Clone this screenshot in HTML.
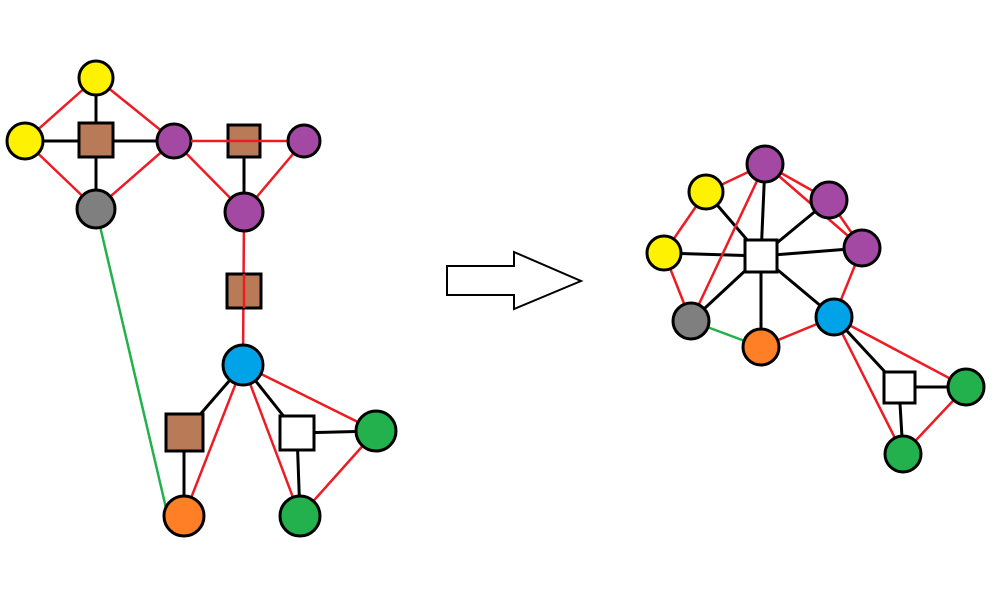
<!DOCTYPE html>
<html><head><style>html,body{margin:0;padding:0;background:#fff}</style></head><body>
<svg width="1007" height="587" xmlns="http://www.w3.org/2000/svg">
<g stroke-linecap="round">
<g stroke="#000" stroke-width="3">
<line x1="96" y1="78" x2="96" y2="209"/><line x1="25" y1="141" x2="174" y2="141"/>
<line x1="244" y1="141" x2="244" y2="212"/>
<line x1="243" y1="365" x2="184" y2="433"/><line x1="184" y1="433" x2="184" y2="516"/>
<line x1="243" y1="365" x2="297" y2="433"/><line x1="297" y1="433" x2="376" y2="431"/><line x1="297" y1="433" x2="300" y2="516"/>
</g>
<g stroke="#ed1c24" stroke-width="2.5">
<line x1="96" y1="78" x2="25" y2="141"/><line x1="96" y1="78" x2="174" y2="141"/>
<line x1="25" y1="141" x2="96" y2="209"/><line x1="96" y1="209" x2="174" y2="141"/>
<line x1="174" y1="141" x2="244" y2="212"/>
<line x1="304" y1="141" x2="244" y2="212"/><line x1="244" y1="212" x2="243" y2="365"/>
<line x1="243" y1="365" x2="184" y2="516"/><line x1="243" y1="365" x2="300" y2="516"/>
<line x1="243" y1="365" x2="376" y2="431"/><line x1="376" y1="431" x2="300" y2="516"/>
</g>
<line x1="96" y1="209" x2="166" y2="508" stroke="#22b14c" stroke-width="2.5"/>
<g stroke="#000" stroke-width="3">
<line x1="761" y1="256" x2="765" y2="164"/><line x1="761" y1="256" x2="706" y2="192"/>
<line x1="761" y1="256" x2="664" y2="253"/><line x1="761" y1="256" x2="829" y2="200"/>
<line x1="761" y1="256" x2="862" y2="248"/><line x1="761" y1="256" x2="691" y2="321"/>
<line x1="761" y1="256" x2="761" y2="347"/><line x1="761" y1="256" x2="834" y2="317"/>
<line x1="834" y1="317" x2="899" y2="387"/><line x1="899" y1="387" x2="966" y2="387"/><line x1="899" y1="387" x2="903" y2="454"/>
</g>
<g stroke="#ed1c24" stroke-width="2.5">
<line x1="706" y1="192" x2="765" y2="164"/><line x1="765" y1="164" x2="829" y2="200"/>
<line x1="765" y1="164" x2="862" y2="248"/><line x1="765" y1="164" x2="691" y2="321"/>
<line x1="706" y1="192" x2="664" y2="253"/><line x1="664" y1="253" x2="691" y2="321"/>
<line x1="829" y1="200" x2="862" y2="248"/><line x1="862" y1="248" x2="834" y2="317"/>
<line x1="834" y1="317" x2="761" y2="347"/><line x1="834" y1="317" x2="966" y2="387"/>
<line x1="834" y1="317" x2="903" y2="454"/><line x1="966" y1="387" x2="903" y2="454"/>
</g>
<line x1="691" y1="321" x2="761" y2="347" stroke="#22b14c" stroke-width="2.5"/>
</g>
<g stroke="#000" stroke-width="3">
<circle cx="96" cy="78" r="17" fill="#fff200"/>
<circle cx="25" cy="141" r="18" fill="#fff200"/>
<rect x="79" y="123" width="34" height="34" fill="#b97a57"/>
<circle cx="174" cy="141" r="17" fill="#a349a4"/>
<circle cx="96" cy="209" r="19" fill="#7f7f7f"/>
<rect x="228" y="125" width="32" height="32" fill="#b97a57"/>
<line x1="191" y1="141" x2="289" y2="141" stroke="#ed1c24" stroke-width="2.5"/>
<circle cx="304" cy="141" r="16" fill="#a349a4"/>
<circle cx="244" cy="212" r="19" fill="#a349a4"/>
<rect x="227" y="274" width="34" height="34" fill="#b97a57"/>
<line x1="244" y1="274" x2="244" y2="308" stroke="#ed1c24" stroke-width="2.5"/>
<circle cx="243" cy="365" r="20" fill="#00a2e8"/>
<rect x="166" y="414" width="37" height="37" fill="#b97a57"/>
<rect x="280" y="416" width="34" height="34" fill="#fff"/>
<circle cx="376" cy="431" r="20" fill="#22b14c"/>
<circle cx="184" cy="516" r="20" fill="#ff7f27"/>
<circle cx="300" cy="516" r="20" fill="#22b14c"/>
<circle cx="765" cy="164" r="18" fill="#a349a4"/>
<circle cx="706" cy="192" r="17" fill="#fff200"/>
<circle cx="829" cy="200" r="18" fill="#a349a4"/>
<circle cx="862" cy="248" r="18" fill="#a349a4"/>
<circle cx="664" cy="253" r="17" fill="#fff200"/>
<rect x="745" y="240" width="32" height="32" fill="#fff"/>
<circle cx="691" cy="321" r="18" fill="#7f7f7f"/>
<circle cx="761" cy="347" r="18" fill="#ff7f27"/>
<circle cx="834" cy="317" r="18" fill="#00a2e8"/>
<rect x="884" y="372" width="31" height="31" fill="#fff"/>
<circle cx="966" cy="387" r="18" fill="#22b14c"/>
<circle cx="903" cy="454" r="18" fill="#22b14c"/>
<polygon points="447,266 514,266 514,252 581,281 514,309 514,295 447,295" fill="#fff" stroke-width="2"/>
</g>
</svg>
</body></html>
